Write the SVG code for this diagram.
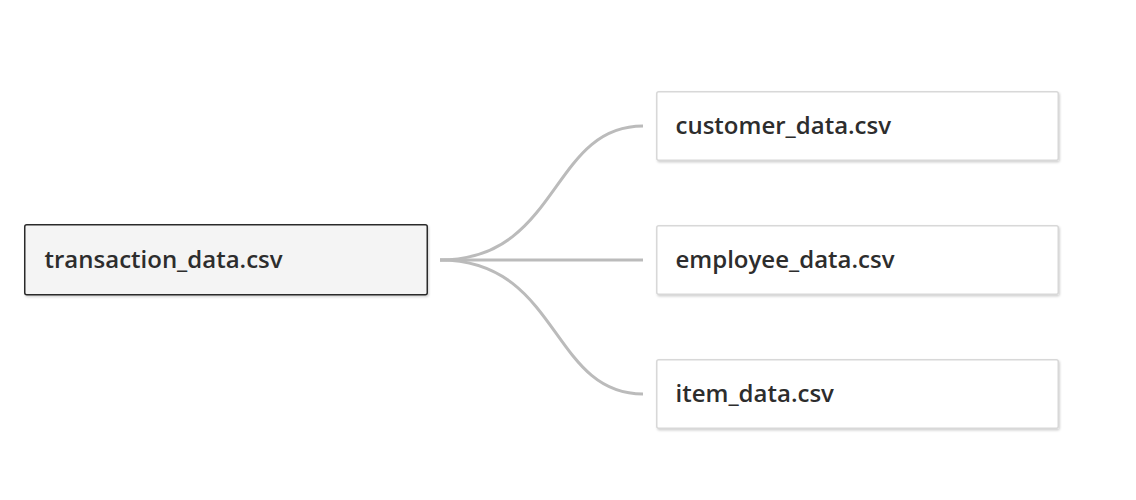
<svg xmlns="http://www.w3.org/2000/svg" width="1136" height="500" viewBox="0 0 1136 500">
<defs>
<filter id="sh" x="-5%" y="-20%" width="110%" height="150%">
<feDropShadow dx="1" dy="1.5" stdDeviation="1" flood-color="#000" flood-opacity="0.18"/>
</filter>
<style>
.conn{fill:none;stroke:#bbbbbb;stroke-width:3;stroke-linecap:butt}
.root{fill:#f4f4f4;stroke:#2b2b2b;stroke-width:1.5}
.leaf{fill:#ffffff;stroke:#d8d8d8;stroke-width:1.5}
.lbl{font-family:"Open Sans","Liberation Sans",sans-serif;font-weight:600;font-size:24px;fill:#2d2d2d}
</style>
</defs>
<rect width="1136" height="500" fill="#ffffff"/>
<g id="connectors">
<path class="conn" d="M440 260 C560 260 550 126 643 126"/>
<path class="conn" d="M440 260 L643 260"/>
<path class="conn" d="M440 260 C560 260 550 394 643 394"/>
</g>
<g id="node-transaction">
<rect class="root" x="24.75" y="224.75" width="402.5" height="70" rx="2" filter="url(#sh)"/>
<text class="lbl" x="44.5" y="267.5">transaction_data.csv</text>
</g>
<g id="node-customer">
<rect class="leaf" x="656.75" y="91.75" width="401.5" height="68.5" rx="2" filter="url(#sh)"/>
<text class="lbl" x="675.5" y="133.5">customer_data.csv</text>
</g>
<g id="node-employee">
<rect class="leaf" x="656.75" y="225.75" width="401.5" height="68.5" rx="2" filter="url(#sh)"/>
<text class="lbl" x="675.5" y="267.5">employee_data.csv</text>
</g>
<g id="node-item">
<rect class="leaf" x="656.75" y="359.75" width="401.5" height="68.5" rx="2" filter="url(#sh)"/>
<text class="lbl" x="675.5" y="401.5">item_data.csv</text>
</g>
</svg>
